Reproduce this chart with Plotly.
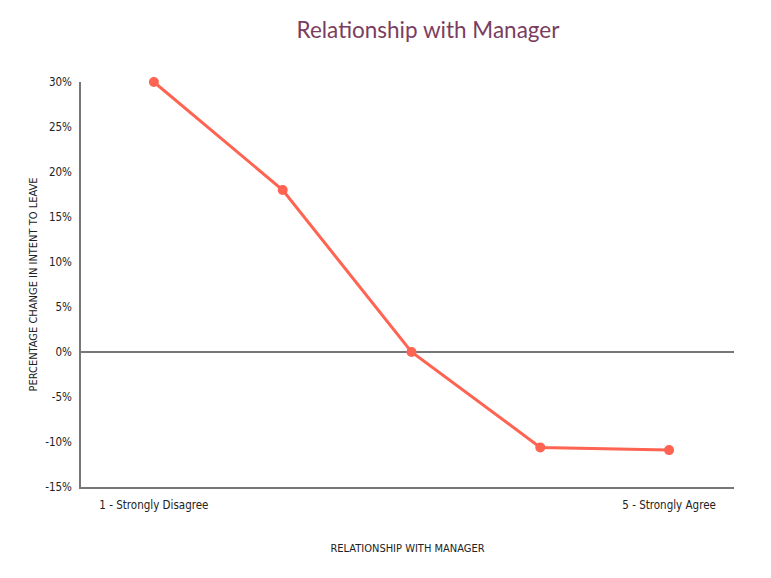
import plotly.graph_objects as go

# Data
categories = [1, 2, 3, 4, 5]
tick_labels = ["1 - Strongly Disagree", "", "", "", "5 - Strongly Agree"]
pct_change = [30, 18, 0, -10.6, -10.9]
y_ticks = [-15, -10, -5, 0, 5, 10, 15, 20, 25, 30]
y_tick_labels = [f"{v}%" for v in y_ticks]

FONT = "Liberation Sans Narrow, DejaVu Sans Condensed, Roboto, sans-serif"

# page offset of 8px (body margin) compensated
W, H = 755, 562

fig = go.Figure()
fig.add_trace(go.Scatter(
    x=categories, y=pct_change, mode="lines+markers",
    line=dict(color="#ff6352", width=3),
    marker=dict(color="#ff6352", size=10),
    hoverinfo="skip", showlegend=False, cliponaxis=False,
))

fig.update_layout(
    width=W, height=H,
    margin=dict(l=73, r=29, t=74, b=83),
    paper_bgcolor="white", plot_bgcolor="white",
    font=dict(family=FONT, size=11.5, color="#222"),
    title=dict(text="Relationship with Manager", x=420/W, xref="container",
               xanchor="center", y=1 - 22/H, yanchor="middle",
               font=dict(family="Lato, Open Sans, sans-serif", size=22.5, color="#7a3d60")),
    xaxis=dict(
        range=[0.434, 5.504], tickvals=categories, ticktext=tick_labels,
        showgrid=False, zeroline=False, showline=True, linecolor="#777", linewidth=1.5,
        ticks="", ticklabelstandoff=6,
        title=dict(text="RELATIONSHIP WITH MANAGER", standoff=34, font=dict(size=11)),
    ),
    yaxis=dict(
        range=[-15, 30], tickvals=y_ticks, ticktext=y_tick_labels,
        showgrid=False, zeroline=True, zerolinecolor="#777", zerolinewidth=1.5,
        showline=True, linecolor="#777", linewidth=1.5,
        ticks="", ticklabelstandoff=5,
        title=dict(text="PERCENTAGE CHANGE IN INTENT TO LEAVE", standoff=5, font=dict(size=11)),
    ),
)

fig.write_html("out.html")
